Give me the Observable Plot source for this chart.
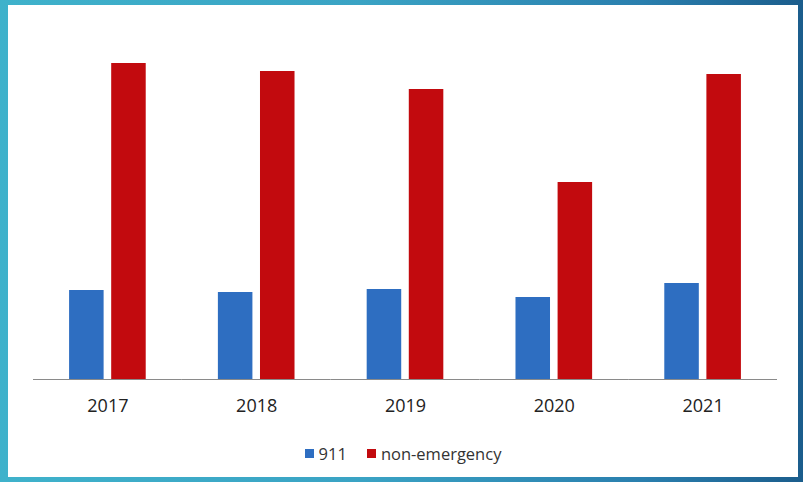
<!DOCTYPE html>
<html>
<head>
<meta charset="utf-8">
<script src="https://cdn.jsdelivr.net/npm/d3@7"></script>
<script src="https://cdn.jsdelivr.net/npm/@observablehq/plot@0.6"></script>
<style>
  html, body { margin: 0; padding: 0; }
  body {
    width: 803px; height: 482px; overflow: hidden; position: relative;
    background: linear-gradient(90deg, #3fb2cb 0%, #3aa3c4 45%, #2a7fae 80%, #1b5d8c 100%);
  }
  #panel {
    position: absolute; left: 8px; top: 5px; width: 790px; height: 472px;
    background: #ffffff;
  }
  #legend {
    position: absolute; left: 0; top: 437px; width: 790px;
    display: flex; justify-content: center; align-items: center;
    font-family: "Open Sans", Lato, sans-serif; font-size: 16.5px; color: #333;
  }
  .sw { display: inline-block; width: 9px; height: 9px; margin-right: 5px; }
  .item { display: inline-flex; align-items: center; margin: 0 10px; }
</style>
</head>
<body>
<div id="panel">
  <div id="chart"></div>
  <div id="legend"></div>
</div>
<script>
const years = ["2017", "2018", "2019", "2020", "2021"];
const seriesNames = ["911", "non-emergency"];
const calls911 = [89, 87, 90, 82, 96];
const nonEmergency = [316, 308, 290, 197, 305];
const seriesColors = ["#2e6ec1", "#c20a0e"];

const data = [];
years.forEach((y, i) => {
  data.push({year: y, series: seriesNames[0], value: calls911[i]});
  data.push({year: y, series: seriesNames[1], value: nonEmergency[i]});
});

const chart = Plot.plot({
  width: 790,
  height: 420,
  marginLeft: 25,
  marginRight: 21,
  marginTop: 34,
  marginBottom: 46,
  style: {fontFamily: "'Open Sans', Lato, sans-serif", color: "#222", background: "white"},
  fx: {domain: years, padding: 0, round: false, label: null, axis: "bottom", tickSize: 0, tickPadding: 20, fontSize: 18},
  x: {domain: seriesNames, axis: null, round: false, paddingInner: 0.18, paddingOuter: 0.857},
  y: {domain: [0, 340], axis: null},
  color: {domain: seriesNames, range: seriesColors},
  marks: [
    Plot.barY(data, {fx: "year", x: "series", y: "value", fill: "series"}),
    Plot.ruleY([0], {stroke: "#8a8a8a", strokeWidth: 1})
  ]
});
chart.querySelectorAll('[aria-label="fx-axis tick label"] text').forEach(t => t.style.fontSize = "18px");
document.getElementById("chart").appendChild(chart);

const legend = document.getElementById("legend");
seriesNames.forEach((s, i) => {
  const item = document.createElement("span");
  item.className = "item";
  const sw = document.createElement("span");
  sw.className = "sw";
  sw.style.background = seriesColors[i];
  const lab = document.createElement("span");
  lab.textContent = s;
  item.appendChild(sw);
  item.appendChild(lab);
  legend.appendChild(item);
});
</script>
</body>
</html>
